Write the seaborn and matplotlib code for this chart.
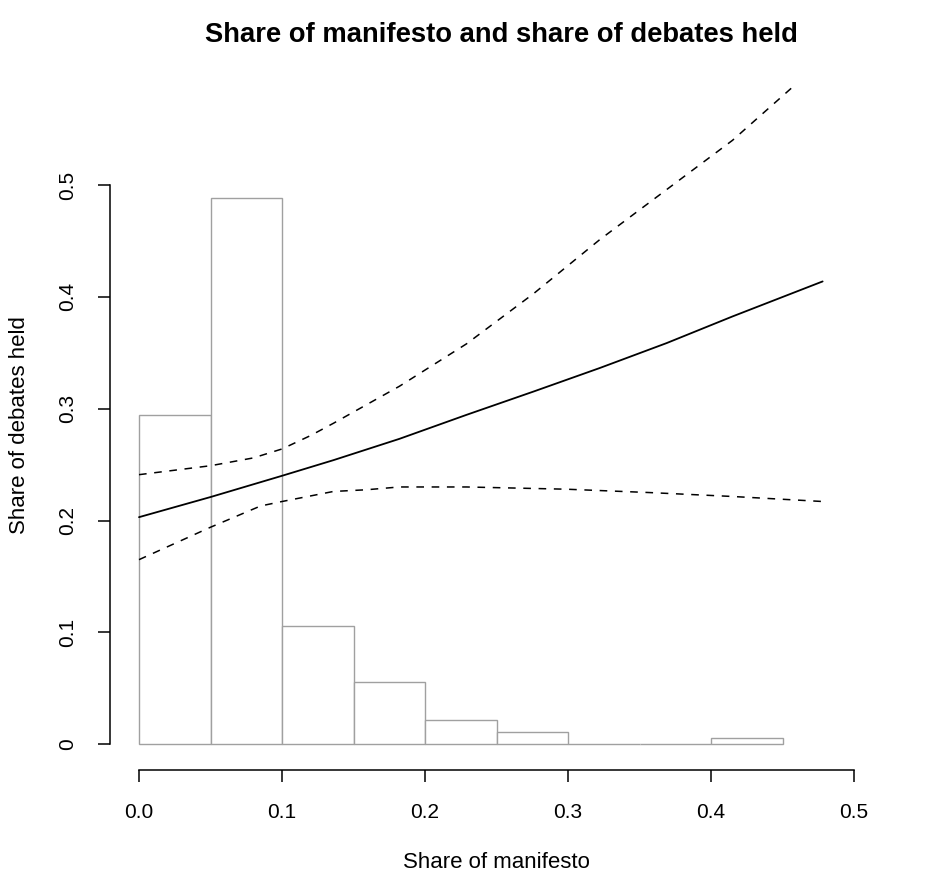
import numpy as np
import pandas as pd
import matplotlib
matplotlib.use("Agg")
import matplotlib.pyplot as plt
import seaborn as sns

# histogram of manifesto share (bin edges and bar heights)
bin_edges = [0.0, 0.05, 0.10, 0.15, 0.20, 0.25, 0.30, 0.35, 0.40, 0.45]
bin_heights = [0.294, 0.488, 0.106, 0.056, 0.0215, 0.0107, 0.0, 0.0, 0.0054]

# fitted line and confidence band
fit_x = [0.0, 0.05, 0.10, 0.136, 0.182, 0.229, 0.276, 0.322, 0.369, 0.415, 0.478]
fit_y = [0.203, 0.221, 0.240, 0.254, 0.273, 0.2945, 0.3154, 0.3363, 0.3587, 0.3825, 0.4138]

upper_x = [0.0, 0.05, 0.08, 0.10, 0.12, 0.136, 0.182, 0.229, 0.276, 0.322, 0.369, 0.415, 0.46]
upper_y = [0.241, 0.249, 0.256, 0.264, 0.276, 0.287, 0.320, 0.358, 0.403, 0.451, 0.496, 0.540, 0.591]

lower_x = [0.0, 0.05, 0.085, 0.10, 0.136, 0.159, 0.182, 0.229, 0.299, 0.357, 0.415, 0.478]
lower_y = [0.165, 0.194, 0.213, 0.217, 0.226, 0.2275, 0.230, 0.230, 0.228, 0.225, 0.2215, 0.217]

x_ticks = [0.0, 0.1, 0.2, 0.3, 0.4, 0.5]
x_labels = ["0.0", "0.1", "0.2", "0.3", "0.4", "0.5"]
y_ticks = [0.0, 0.1, 0.2, 0.3, 0.4, 0.5]
y_labels = ["0", "0.1", "0.2", "0.3", "0.4", "0.5"]

sns.set_theme(style="white")
plt.rcParams["font.family"] = ["Liberation Sans", "DejaVu Sans"]

fig = plt.figure(figsize=(9.36, 8.88), dpi=100)
ax = fig.add_axes([0.1175, 0.133, 0.826, 0.777])

# bars: centres weighted by the bar heights
mids = [(a + b) / 2 for a, b in zip(bin_edges[:-1], bin_edges[1:])]
hist_df = pd.DataFrame({"share": mids, "h": bin_heights})
sns.histplot(data=hist_df, x="share", weights="h", bins=bin_edges, stat="count",
             facecolor="white", edgecolor="#a0a0a0", linewidth=1.0, alpha=1, ax=ax)

sns.lineplot(x=fit_x, y=fit_y, color="black", linewidth=1.3, ax=ax)
sns.lineplot(x=upper_x, y=upper_y, color="black", linewidth=1.1,
             linestyle=(0, (5, 5)), ax=ax)
sns.lineplot(x=lower_x, y=lower_y, color="black", linewidth=1.1,
             linestyle=(0, (5, 5)), ax=ax)

ax.set_xlim(-0.0203, 0.5203)
ax.set_ylim(-0.023, 0.594)

# R-style detached axes
for side in ["top", "right"]:
    ax.spines[side].set_visible(False)
ax.spines["left"].set_bounds(0, 0.5)
ax.spines["bottom"].set_bounds(0, 0.5)
for side in ["left", "bottom"]:
    ax.spines[side].set_color("black")
    ax.spines[side].set_linewidth(1.1)

ax.set_xticks(x_ticks)
ax.set_xticklabels(x_labels)
ax.set_yticks(y_ticks)
ax.set_yticklabels(y_labels, rotation=90, va="center")
ax.tick_params(axis="both", which="major", direction="out", length=8.6, width=1.1,
               color="black", labelsize=15, pad=15, labelcolor="black",
               left=True, bottom=True)

ax.set_xlabel("Share of manifesto", fontsize=16, labelpad=22, color="black")
ax.set_ylabel("Share of debates held", fontsize=16, labelpad=20, color="black")
fig.suptitle("Share of manifesto and share of debates held", fontsize=19.7,
             fontweight="bold", x=0.536, y=0.975, color="black")

ax.grid(False)
fig.savefig("out.png", dpi=100)
